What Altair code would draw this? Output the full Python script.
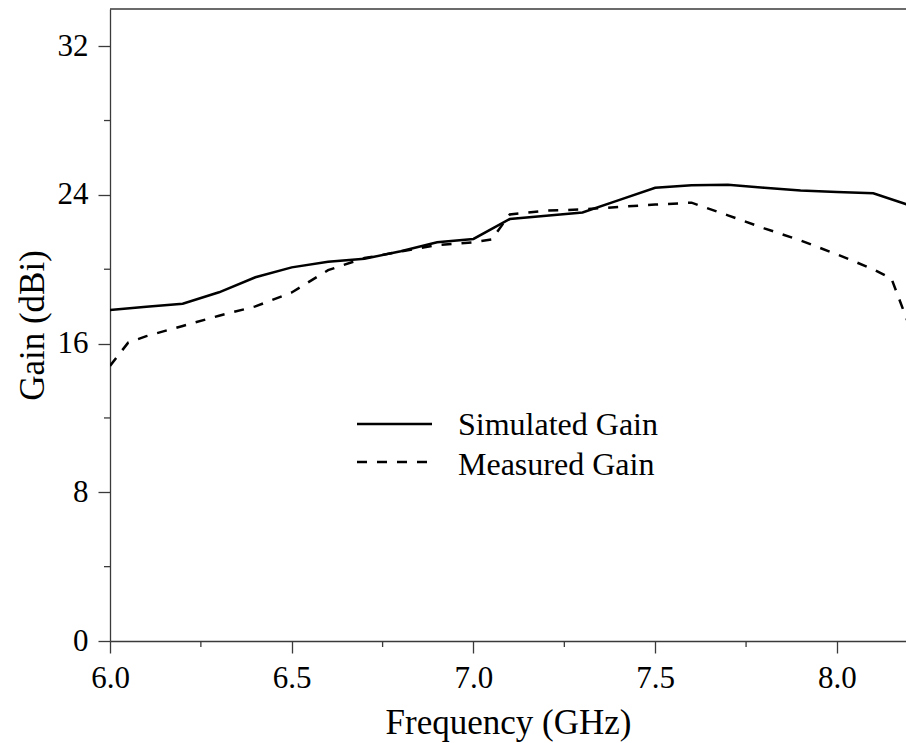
import altair as alt
import pandas as pd

# ---- data ----
freq_sim = [6.0, 6.1, 6.2, 6.3, 6.4, 6.5, 6.6, 6.7, 6.8, 6.9, 7.0, 7.1, 7.2, 7.3,
            7.4, 7.5, 7.6, 7.7, 7.8, 7.9, 8.0, 8.1, 8.2]
gain_sim = [17.8, 17.98, 18.14, 18.76, 19.57, 20.1, 20.4, 20.56, 20.97, 21.45, 21.63,
            22.7, 22.88, 23.05, 23.72, 24.38, 24.52, 24.55, 24.38, 24.24, 24.16, 24.09, 23.44]

freq_meas = [6.0, 6.05, 6.1, 6.2, 6.3, 6.4, 6.5, 6.6, 6.7, 6.8, 6.9, 7.0, 7.05, 7.1,
             7.2, 7.3, 7.4, 7.5, 7.6, 7.7, 7.8, 7.9, 8.0, 8.1, 8.15, 8.2]
gain_meas = [14.8, 16.05, 16.4, 16.95, 17.5, 18.0, 18.75, 19.95, 20.6, 20.95, 21.3,
             21.45, 21.6, 22.95, 23.15, 23.22, 23.35, 23.48, 23.58, 22.9, 22.2, 21.55,
             20.8, 20.0, 19.5, 16.9]

x_major = [6.0, 6.5, 7.0, 7.5, 8.0]
x_minor = [6.25, 6.75, 7.25, 7.75]
y_major = [0, 8, 16, 24, 32]
y_minor = [4, 12, 20, 28]
series_names = ["Simulated Gain", "Measured Gain"]

FONT = "Liberation Serif"
AXIS_COLOR = "#3a3a3a"
W, H = 796, 632

df_sim = pd.DataFrame({"freq": freq_sim, "gain": gain_sim})
df_meas = pd.DataFrame({"freq": freq_meas, "gain": gain_meas})

xscale = alt.Scale(domain=[6.0, 8.19], nice=False, zero=False)
yscale = alt.Scale(domain=[0, 34], nice=False, zero=False)

xaxis = alt.Axis(values=x_major, format=".1f", title="Frequency (GHz)",
                 grid=False, tickSize=12, tickColor=AXIS_COLOR, tickWidth=1.3,
                 domainColor=AXIS_COLOR, domainWidth=1.3,
                 labelFont=FONT, labelFontSize=31, labelColor="black",
                 labelPadding=10, labelFlush=False, labelOverlap=False,
                 titleFont=FONT, titleFontSize=35, titleFontWeight="normal",
                 titleColor="black", titleY=92, titleBaseline="alphabetic")
yaxis = alt.Axis(values=y_major, format="d", title="Gain (dBi)",
                 grid=False, tickSize=12, tickColor=AXIS_COLOR, tickWidth=1.3,
                 domainColor=AXIS_COLOR, domainWidth=1.3,
                 labelFont=FONT, labelFontSize=31, labelColor="black",
                 labelPadding=10, labelFlush=False, labelOverlap=False,
                 titleFont=FONT, titleFontSize=35, titleFontWeight="normal",
                 titleColor="black", titleX=-67, titleBaseline="alphabetic")

X = alt.X("freq:Q", scale=xscale, axis=xaxis)
Y = alt.Y("gain:Q", scale=yscale, axis=yaxis)

sim = alt.Chart(df_sim).mark_line(color="black", strokeWidth=2.5, clip=True).encode(x=X, y=Y)
meas = alt.Chart(df_meas).mark_line(color="black", strokeWidth=2.5, strokeDash=[10, 10],
                                    clip=True).encode(x=X, y=Y)

# minor ticks drawn through the scales
xminor = alt.Chart(pd.DataFrame({"freq": x_minor})).mark_rule(
    color=AXIS_COLOR, strokeWidth=1.3).encode(
    x=X, y=alt.value(H), y2=alt.value(H + 6),
)
yminor = alt.Chart(pd.DataFrame({"gain": y_minor})).mark_rule(
    color=AXIS_COLOR, strokeWidth=1.3).encode(
    y=Y, x=alt.value(-6), x2=alt.value(0),
)

# top frame line
top = alt.Chart(pd.DataFrame({"k": [0]})).mark_rule(
    color=AXIS_COLOR, strokeWidth=1.3).encode(
    x=alt.value(0), x2=alt.value(W), y=alt.value(0),
)

# legend
leg_df = pd.DataFrame({"name": series_names})
leg_sim_line = alt.Chart(leg_df.iloc[[0]]).mark_rule(color="black", strokeWidth=2.5).encode(
    x=alt.value(247), x2=alt.value(322), y=alt.value(415))
leg_meas_line = alt.Chart(leg_df.iloc[[1]]).mark_rule(
    color="black", strokeWidth=2.5, strokeDash=[10, 10]).encode(
    x=alt.value(247), x2=alt.value(322), y=alt.value(453))
leg_sim_text = alt.Chart(leg_df.iloc[[0]]).mark_text(
    font=FONT, fontSize=32, align="left", baseline="alphabetic", color="black").encode(
    x=alt.value(348), y=alt.value(426), text="name:N")
leg_meas_text = alt.Chart(leg_df.iloc[[1]]).mark_text(
    font=FONT, fontSize=32, align="left", baseline="alphabetic", color="black").encode(
    x=alt.value(348), y=alt.value(466), text="name:N")

chart = alt.layer(
    sim, meas, xminor, yminor, top,
    leg_sim_line, leg_meas_line, leg_sim_text, leg_meas_text,
).properties(
    width=W, height=H,
    autosize=alt.AutoSizeParams(type="none"),
    padding={"left": 110, "top": 9, "right": 0, "bottom": 102},
    background="white",
).configure_view(stroke=None)

chart.save("out.html", embed_options={"renderer": "svg", "actions": False})
